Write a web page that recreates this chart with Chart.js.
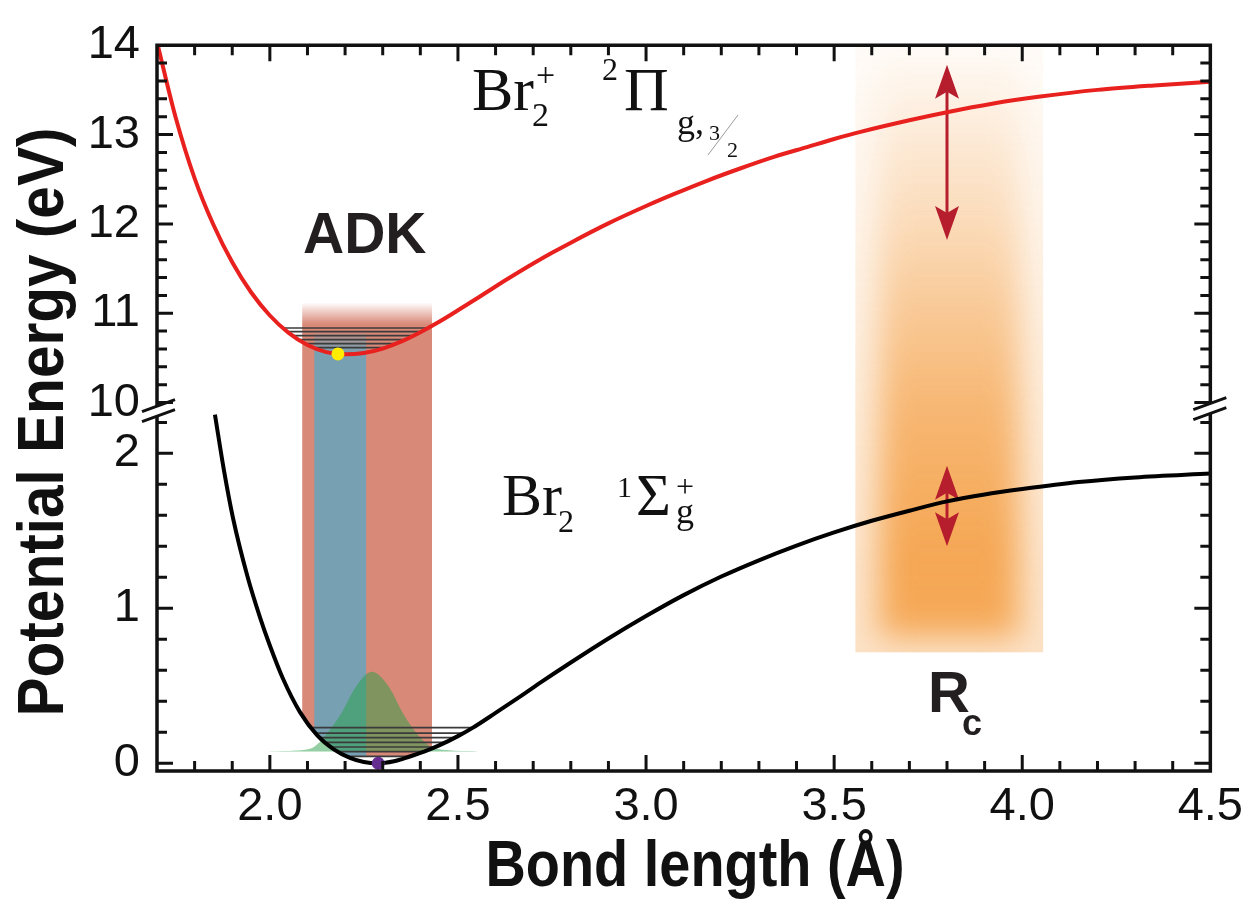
<!DOCTYPE html>
<html lang="en">
<head>
<meta charset="UTF-8">
<title>Br2 potential energy curves</title>
<script src="https://cdn.jsdelivr.net/npm/chart.js@4.4.0/dist/chart.umd.min.js"></script>
<style>
    html, body { margin: 0; padding: 0; background: #fff; }
    canvas { display: block; }
</style>
</head>
<body>
<canvas id="pec" width="1251" height="903"></canvas>
<script>
    // Br2+ 2Pi_g,3/2 ionic curve: bond length (Å) / energy (eV)
    const ionR = [1.7, 1.75, 1.8, 1.85, 1.9, 1.95, 2.0, 2.05, 2.1, 2.15, 2.2, 2.25, 2.3, 2.35, 2.4, 2.45, 2.5, 2.55, 2.6, 2.65, 2.7, 2.75, 2.8, 2.897, 3.0, 3.072, 3.16, 3.25, 3.34, 3.428, 3.5, 3.57, 3.7, 3.8, 3.92, 4.048, 4.2, 4.35, 4.5];
    const ionE = [14.035, 13.185, 12.51, 11.99, 11.57, 11.235, 10.975, 10.78, 10.645, 10.565, 10.54, 10.555, 10.605, 10.685, 10.788, 10.905, 11.033, 11.165, 11.3, 11.43, 11.556, 11.676, 11.79, 12.0, 12.2, 12.33, 12.48, 12.62, 12.75, 12.86, 12.95, 13.03, 13.16, 13.25, 13.345, 13.425, 13.5, 13.55, 13.59];

    // Br2 1Sigma_g+ ground curve
    const groundR = [1.854, 1.878, 1.902, 1.94, 1.974, 2.0, 2.035, 2.08, 2.126, 2.17, 2.213, 2.25, 2.288, 2.33, 2.37, 2.41, 2.45, 2.5, 2.54, 2.6, 2.665, 2.719, 2.8, 2.9, 3.0, 3.1, 3.2, 3.3, 3.4, 3.5, 3.6, 3.7, 3.8, 3.9, 4.0, 4.15, 4.3, 4.5];
    const groundE = [2.25, 1.89, 1.583, 1.21, 0.94, 0.76, 0.545, 0.33, 0.18, 0.09, 0.035, 0.008, 0.0, 0.013, 0.042, 0.075, 0.115, 0.175, 0.23, 0.325, 0.43, 0.52, 0.65, 0.805, 0.95, 1.085, 1.205, 1.31, 1.405, 1.49, 1.565, 1.63, 1.69, 1.735, 1.77, 1.815, 1.845, 1.87];

    // ground vibrational wavefunction, drawn above its baseline
    const psiR = [2.0, 2.07, 2.12, 2.17, 2.192, 2.22, 2.25, 2.27, 2.29, 2.32, 2.352, 2.37, 2.42, 2.47, 2.55];
    const psiE = [0.077, 0.082, 0.11, 0.25, 0.33, 0.46, 0.56, 0.59, 0.57, 0.48, 0.33, 0.26, 0.12, 0.085, 0.077];
    const psiBase = 0.076;

    // vibrational levels: energy and inner / outer turning points
    const ionLevelE = [10.835, 10.795, 10.75, 10.705, 10.66, 10.615];
    const ionLevelR0 = [2.036, 2.046, 2.061, 2.078, 2.094, 2.119];
    const ionLevelR1 = [2.42, 2.403, 2.382, 2.36, 2.334, 2.306];
    const groundLevelE = [0.23, 0.195, 0.165, 0.135, 0.105, 0.075, 0.045];
    const groundLevelR0 = [2.11, 2.12, 2.132, 2.144, 2.158, 2.176, 2.2];
    const groundLevelR1 = [2.54, 2.515, 2.492, 2.466, 2.44, 2.41, 2.375];

    // well minima markers
    const ionMin = [2.181, 10.545];
    const groundMin = [2.288, 0.0];

    // ADK window and Rc region
    const adkR = [2.086, 2.431];
    const adkInnerR = [2.118, 2.256];
    const adkE = [0.04, 11.12, 10.88];      // bottom (ground axis), fade top, solid top (ion axis)
    const adkInnerE = [10.77, 10.58];
    const rcR = [3.556, 4.056];
    const rcBottomE = 0.715;
    const arrowR = 3.8;
    const ionArrowE = [13.78, 11.82];
    const groundArrowE = [1.92, 1.40];

    // axes
    const xRange = [1.7, 4.5];
    const ionRange = [9.9, 14];
    const groundRange = [-0.05, 2.27];
    const xTicks = [2.0, 2.5, 3.0, 3.5, 4.0, 4.5];
    const ionTicks = [10, 11, 12, 13, 14];
    const groundTicks = [0, 1, 2];

    const pts = (xs, ys) => xs.map((x, i) => ({ x: x, y: ys[i] }));

    function levelLine(r0, r1, e, axis) {
        return {
            data: [{ x: r0, y: e }, { x: r1, y: e }],
            yAxisID: axis,
            borderColor: '#3b3b3b',
            borderWidth: 1.7,
            pointRadius: 0,
            fill: false,
            order: 2
        };
    }

    const datasets = [
        {
            label: 'Br2+',
            data: pts(ionR, ionE),
            yAxisID: 'yTop',
            borderColor: '#e8211f',
            borderWidth: 4,
            pointRadius: 0,
            cubicInterpolationMode: 'monotone',
            order: 1
        },
        {
            label: 'Br2',
            data: pts(groundR, groundE),
            yAxisID: 'yBot',
            borderColor: '#000',
            borderWidth: 4,
            pointRadius: 0,
            cubicInterpolationMode: 'monotone',
            order: 1
        },
        {
            label: 'psi',
            data: pts(psiR, psiE),
            yAxisID: 'yBot',
            borderWidth: 0,
            pointRadius: 0,
            cubicInterpolationMode: 'monotone',
            fill: { value: psiBase },
            backgroundColor: 'rgba(40,160,70,0.5)',
            order: 3
        },
        {
            type: 'scatter',
            data: [{ x: ionMin[0], y: ionMin[1] }],
            yAxisID: 'yTop',
            pointRadius: 6.5,
            pointBackgroundColor: '#ffec00',
            pointBorderWidth: 0,
            order: 0
        },
        {
            type: 'scatter',
            data: [{ x: groundMin[0], y: groundMin[1] }],
            yAxisID: 'yBot',
            pointRadius: 6.5,
            pointBackgroundColor: '#662d91',
            pointBorderWidth: 0,
            order: 0
        }
    ];
    ionLevelE.forEach((e, i) => datasets.push(levelLine(ionLevelR0[i], ionLevelR1[i], e, 'yTop')));
    groundLevelE.forEach((e, i) => datasets.push(levelLine(groundLevelR0[i], groundLevelR1[i], e, 'yBot')));

    const INK = '#111';
    const tickFont = { family: 'Liberation Sans, Arial, sans-serif', size: 47 };

    function fixedTicks(values) {
        return scale => { scale.ticks = values.map(v => ({ value: v })); };
    }

    function drawArrow(ctx, x, yTip1, yTip2) {
        const head = 34, notch = 27, half = 12;
        ctx.strokeStyle = '#b71e2d';
        ctx.fillStyle = '#b71e2d';
        ctx.lineWidth = 3;
        ctx.beginPath();
        ctx.moveTo(x, yTip1 + notch);
        ctx.lineTo(x, yTip2 - notch);
        ctx.stroke();
        [[yTip1, 1], [yTip2, -1]].forEach(([y, d]) => {
            ctx.beginPath();
            ctx.moveTo(x, y);
            ctx.lineTo(x + half, y + d * head);
            ctx.lineTo(x, y + d * notch);
            ctx.lineTo(x - half, y + d * head);
            ctx.closePath();
            ctx.fill();
        });
    }

    function text(ctx, s, x, y, font, align) {
        ctx.font = font;
        ctx.textAlign = align || 'left';
        ctx.textBaseline = 'alphabetic';
        ctx.fillText(s, x, y);
    }

    // squeezed bold title to the given length along its baseline
    function title(ctx, s, cx, cy, size, len, angle) {
        ctx.save();
        ctx.translate(cx, cy);
        ctx.rotate(angle);
        ctx.font = 'bold ' + size + 'px Liberation Sans, Arial, sans-serif';
        const w = ctx.measureText(s).width;
        ctx.scale(len / w, 1);
        ctx.textAlign = 'center';
        ctx.textBaseline = 'alphabetic';
        ctx.fillText(s, 0, 0);
        ctx.restore();
    }

    const decor = {
        id: 'decor',
        beforeDatasetsDraw(chart) {
            const { ctx, chartArea: a, scales } = chart;
            const x = scales.x, yT = scales.yTop, yB = scales.yBot;

            // Rc glow
            const gx0 = x.getPixelForValue(rcR[0]), gx1 = x.getPixelForValue(rcR[1]);
            const gy1 = yB.getPixelForValue(rcBottomE);
            ctx.save();
            ctx.beginPath();
            ctx.rect(gx0, a.top, gx1 - gx0, gy1 - a.top);
            ctx.clip();
            const base = ctx.createLinearGradient(0, a.top, 0, gy1);
            base.addColorStop(0, 'rgba(245,165,80,0.04)');
            base.addColorStop(0.5, 'rgba(245,165,80,0.18)');
            base.addColorStop(1, 'rgba(245,165,80,0.32)');
            ctx.fillStyle = base;
            ctx.fillRect(gx0, a.top, gx1 - gx0, gy1 - a.top);
            const core = ctx.createLinearGradient(0, a.top, 0, gy1);
            core.addColorStop(0, 'rgba(245,165,80,0.0)');
            core.addColorStop(0.3, 'rgba(245,165,80,0.32)');
            core.addColorStop(0.6, 'rgba(245,165,80,0.75)');
            core.addColorStop(0.85, 'rgba(245,165,80,0.97)');
            core.addColorStop(1, 'rgba(245,165,80,0.9)');
            ctx.filter = 'blur(16px)';
            ctx.fillStyle = core;
            ctx.fillRect(gx0 + 24, a.top - 20, gx1 - gx0 - 48, gy1 - a.top + 5);
            ctx.restore();

            // ADK window, kept inside the ground well
            const well = chart.getDatasetMeta(1).data;
            ctx.save();
            ctx.beginPath();
            ctx.moveTo(well[0].x, a.top);
            well.forEach(p => ctx.lineTo(p.x, p.y));
            ctx.lineTo(well[well.length - 1].x, a.top);
            ctx.closePath();
            ctx.clip();
            const bx0 = x.getPixelForValue(adkR[0]), bx1 = x.getPixelForValue(adkR[1]);
            const by0 = yT.getPixelForValue(adkE[1]), bySolid = yT.getPixelForValue(adkE[2]);
            const by1 = yB.getPixelForValue(adkE[0]);
            const rg = ctx.createLinearGradient(0, by0, 0, bySolid);
            rg.addColorStop(0, 'rgba(217,137,120,0)');
            rg.addColorStop(1, 'rgba(217,137,120,1)');
            ctx.fillStyle = rg;
            ctx.fillRect(bx0, by0, bx1 - bx0, bySolid - by0);
            ctx.fillStyle = 'rgb(217,137,120)';
            ctx.fillRect(bx0, bySolid, bx1 - bx0, by1 - bySolid);
            const ix0 = x.getPixelForValue(adkInnerR[0]), ix1 = x.getPixelForValue(adkInnerR[1]);
            const iy0 = yT.getPixelForValue(adkInnerE[0]), iySolid = yT.getPixelForValue(adkInnerE[1]);
            const bg = ctx.createLinearGradient(0, iy0, 0, iySolid);
            bg.addColorStop(0, 'rgba(119,160,178,0.25)');
            bg.addColorStop(1, 'rgba(119,160,178,1)');
            ctx.fillStyle = bg;
            ctx.fillRect(ix0, iy0, ix1 - ix0, iySolid - iy0);
            ctx.fillStyle = 'rgb(119,160,178)';
            ctx.fillRect(ix0, iySolid, ix1 - ix0, by1 - iySolid);
            ctx.restore();

            // bond stretching arrows
            ctx.save();
            const ax = x.getPixelForValue(arrowR);
            drawArrow(ctx, ax, yT.getPixelForValue(ionArrowE[0]), yT.getPixelForValue(ionArrowE[1]));
            drawArrow(ctx, ax, yB.getPixelForValue(groundArrowE[0]), yB.getPixelForValue(groundArrowE[1]));
            ctx.restore();
        },
        afterDraw(chart) {
            const { ctx, chartArea: a, scales } = chart;
            const x = scales.x, yT = scales.yTop, yB = scales.yBot;
            const B = yT.bottom;
            ctx.save();
            ctx.strokeStyle = INK;
            ctx.fillStyle = INK;
            ctx.lineCap = 'butt';

            // frame with broken energy axis
            ctx.lineWidth = 3.5;
            ctx.beginPath();
            ctx.moveTo(a.left, B - 5.5);
            ctx.lineTo(a.left, a.top);
            ctx.lineTo(a.right, a.top);
            ctx.lineTo(a.right, B - 8);
            ctx.moveTo(a.left, B + 4.5);
            ctx.lineTo(a.left, a.bottom);
            ctx.lineTo(a.right, a.bottom);
            ctx.lineTo(a.right, B + 2);
            ctx.stroke();

            ctx.lineWidth = 3;
            ctx.beginPath();
            ctx.moveTo(a.left - 15, B);       ctx.lineTo(a.left + 18, B - 12);
            ctx.moveTo(a.left - 15, B + 10);  ctx.lineTo(a.left + 18, B - 2);
            ctx.moveTo(a.right - 17, B - 2);  ctx.lineTo(a.right + 16, B - 14);
            ctx.moveTo(a.right - 17, B + 8);  ctx.lineTo(a.right + 16, B - 4);
            ctx.stroke();

            // inward ticks
            ctx.lineWidth = 3;
            ctx.beginPath();
            for (let i = 18; i <= 44; i++) {
                const px = x.getPixelForValue(i / 10);
                const len = i % 5 === 0 ? 16 : 10;
                ctx.moveTo(px, a.bottom); ctx.lineTo(px, a.bottom - len);
                ctx.moveTo(px, a.top); ctx.lineTo(px, a.top + len);
            }
            for (let i = 50; i < 70; i++) {
                const py = yT.getPixelForValue(i / 5);
                const len = i % 5 === 0 ? 16 : 10;
                ctx.moveTo(a.left, py); ctx.lineTo(a.left + len, py);
                ctx.moveTo(a.right, py); ctx.lineTo(a.right - len, py);
            }
            for (let i = 0; i <= 11; i++) {
                const py = yB.getPixelForValue(i / 5);
                const len = i % 5 === 0 ? 16 : 10;
                ctx.moveTo(a.left, py); ctx.lineTo(a.left + len, py);
                ctx.moveTo(a.right, py); ctx.lineTo(a.right - len, py);
            }
            ctx.stroke();

            // state labels
            const serif = 'px Liberation Serif, Times New Roman, serif';
            ctx.fillStyle = INK;
            text(ctx, 'Br', 472, 110, '62' + serif);
            text(ctx, '2', 532, 126, '34' + serif);
            text(ctx, '+', 536, 86, '34' + serif);
            text(ctx, '2', 602, 80, '32' + serif);
            text(ctx, '\u03A0', 624, 110, '62' + serif);
            text(ctx, 'g,', 677, 134, '36' + serif);
            text(ctx, '3', 709, 140, '22' + serif);
            text(ctx, '2', 727, 157, '22' + serif);
            ctx.strokeStyle = '#9a9a9a';
            ctx.lineWidth = 1;
            ctx.beginPath();
            ctx.moveTo(708, 155); ctx.lineTo(738, 115);
            ctx.stroke();

            text(ctx, 'Br', 502, 515, '60' + serif);
            text(ctx, '2', 558, 532, '32' + serif);
            text(ctx, '1', 617, 497, '30' + serif);
            text(ctx, '\u03A3', 636, 515, '60' + serif);
            text(ctx, 'g', 676, 523, '36' + serif);
            text(ctx, '+', 676, 497, '32' + serif);

            ctx.fillStyle = '#231f20';
            text(ctx, 'ADK', 303, 253, 'bold 57px Liberation Sans, Arial, sans-serif');
            text(ctx, 'R', 928, 712, 'bold 58px Liberation Sans, Arial, sans-serif');
            text(ctx, 'c', 962, 735, 'bold 36px Liberation Sans, Arial, sans-serif');

            // axis titles
            ctx.fillStyle = INK;
            title(ctx, 'Potential Energy (eV)', 63, 422, 64, 589, -Math.PI / 2);
            title(ctx, 'Bond length (\u00C5)', 695, 886, 64, 419, 0);
            ctx.restore();
        }
    };

    new Chart(document.getElementById('pec'), {
        type: 'line',
        data: { datasets: datasets },
        options: {
            responsive: false,
            animation: false,
            devicePixelRatio: 1,
            layout: { padding: { top: 32, right: 39, left: 0, bottom: 0 } },
            plugins: { legend: { display: false }, tooltip: { enabled: false } },
            scales: {
                x: {
                    type: 'linear',
                    position: 'bottom',
                    min: xRange[0],
                    max: xRange[1],
                    grid: { display: false, drawTicks: false },
                    border: { display: false },
                    afterBuildTicks: fixedTicks(xTicks),
                    afterFit: s => { s.height = 132; },
                    ticks: {
                        color: INK,
                        font: tickFont,
                        padding: 8,
                        maxRotation: 0,
                        autoSkip: false,
                        callback: v => v.toFixed(1)
                    }
                },
                // stacked scales are laid out bottom-up in definition order
                yBot: {
                    type: 'linear',
                    position: 'left',
                    stack: 'energy',
                    stackWeight: 366,
                    min: groundRange[0],
                    max: groundRange[1],
                    grid: { display: false, drawTicks: false },
                    border: { display: false },
                    afterBuildTicks: fixedTicks(groundTicks),
                    afterFit: s => { s.width = 157; },
                    ticks: { color: INK, font: tickFont, padding: 17, autoSkip: false }
                },
                yTop: {
                    type: 'linear',
                    position: 'left',
                    stack: 'energy',
                    stackWeight: 373,
                    min: ionRange[0],
                    max: ionRange[1],
                    grid: { display: false, drawTicks: false },
                    border: { display: false },
                    afterBuildTicks: fixedTicks(ionTicks),
                    afterFit: s => { s.width = 157; },
                    ticks: { color: INK, font: tickFont, padding: 17, autoSkip: false }
                }
            }
        },
        plugins: [decor]
    });
</script>
</body>
</html>
